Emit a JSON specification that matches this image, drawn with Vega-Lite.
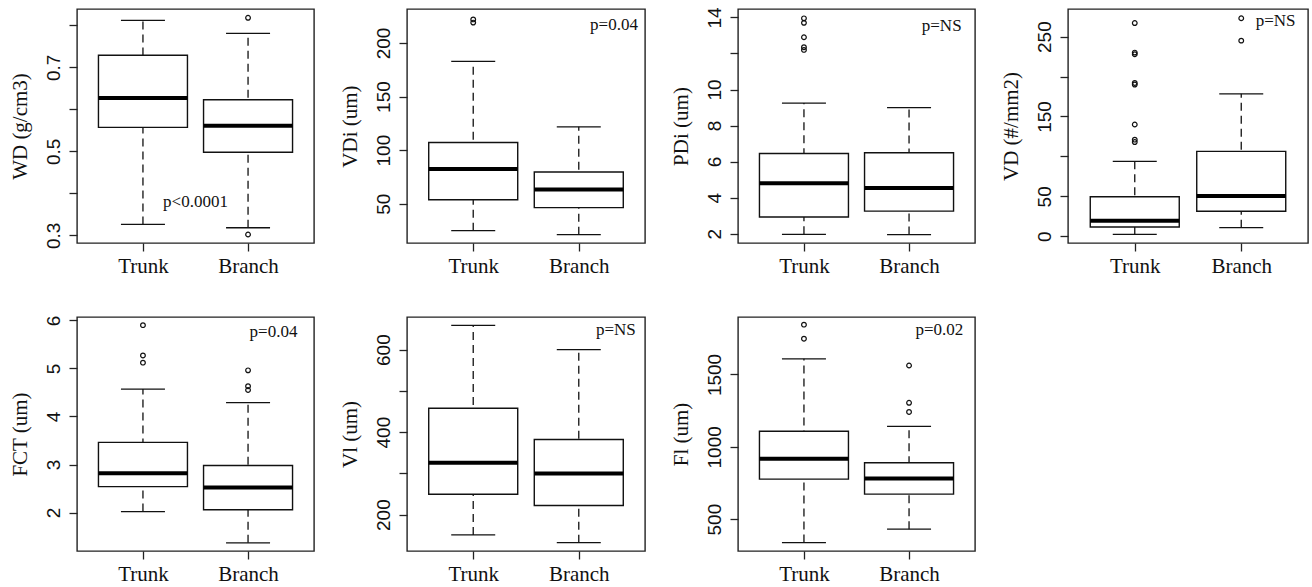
{
"$schema": "https://vega.github.io/schema/vega-lite/v6.json",
"padding": {"left": 8, "top": 6, "right": 2, "bottom": 2},
"datasets": {
"stats": [
{"panel": "WD", "group": "Trunk", "pos": 1, "lo": 0.326, "q1": 0.557, "med": 0.627, "q3": 0.729, "hi": 0.812},
{"panel": "WD", "group": "Branch", "pos": 2, "lo": 0.318, "q1": 0.498, "med": 0.561, "q3": 0.623, "hi": 0.781},
{"panel": "VDi", "group": "Trunk", "pos": 1, "lo": 24.8, "q1": 53.7, "med": 82.3, "q3": 107.1, "hi": 182.9},
{"panel": "VDi", "group": "Branch", "pos": 2, "lo": 21.1, "q1": 46.3, "med": 63.3, "q3": 79.5, "hi": 121.7},
{"panel": "PDi", "group": "Trunk", "pos": 1, "lo": 1.96, "q1": 2.92, "med": 4.79, "q3": 6.45, "hi": 9.25},
{"panel": "PDi", "group": "Branch", "pos": 2, "lo": 1.95, "q1": 3.25, "med": 4.53, "q3": 6.49, "hi": 9.0},
{"panel": "VD", "group": "Trunk", "pos": 1, "lo": 2.5, "q1": 11.7, "med": 19.6, "q3": 49.6, "hi": 93.8},
{"panel": "VD", "group": "Branch", "pos": 2, "lo": 10.8, "q1": 31.3, "med": 50.4, "q3": 106.3, "hi": 178.4},
{"panel": "FCT", "group": "Trunk", "pos": 1, "lo": 2.02, "q1": 2.54, "med": 2.82, "q3": 3.46, "hi": 4.57},
{"panel": "FCT", "group": "Branch", "pos": 2, "lo": 1.37, "q1": 2.06, "med": 2.52, "q3": 2.98, "hi": 4.29},
{"panel": "Vl", "group": "Trunk", "pos": 1, "lo": 150.7, "q1": 249.3, "med": 325.5, "q3": 458, "hi": 659},
{"panel": "Vl", "group": "Branch", "pos": 2, "lo": 132, "q1": 222, "med": 300, "q3": 382, "hi": 600},
{"panel": "Fl", "group": "Trunk", "pos": 1, "lo": 338, "q1": 777, "med": 917, "q3": 1107, "hi": 1608},
{"panel": "Fl", "group": "Branch", "pos": 2, "lo": 431, "q1": 673, "med": 781, "q3": 890, "hi": 1141}
],
"outliers": [
{"panel": "WD", "group": "Branch", "pos": 2, "v": 0.818},
{"panel": "WD", "group": "Branch", "pos": 2, "v": 0.302},
{"panel": "VDi", "group": "Trunk", "pos": 1, "v": 222},
{"panel": "VDi", "group": "Trunk", "pos": 1, "v": 219},
{"panel": "PDi", "group": "Trunk", "pos": 1, "v": 13.95},
{"panel": "PDi", "group": "Trunk", "pos": 1, "v": 13.7},
{"panel": "PDi", "group": "Trunk", "pos": 1, "v": 12.9},
{"panel": "PDi", "group": "Trunk", "pos": 1, "v": 12.35},
{"panel": "PDi", "group": "Trunk", "pos": 1, "v": 12.2},
{"panel": "VD", "group": "Trunk", "pos": 1, "v": 267},
{"panel": "VD", "group": "Trunk", "pos": 1, "v": 230},
{"panel": "VD", "group": "Trunk", "pos": 1, "v": 228},
{"panel": "VD", "group": "Trunk", "pos": 1, "v": 192},
{"panel": "VD", "group": "Trunk", "pos": 1, "v": 190},
{"panel": "VD", "group": "Trunk", "pos": 1, "v": 140},
{"panel": "VD", "group": "Trunk", "pos": 1, "v": 121},
{"panel": "VD", "group": "Trunk", "pos": 1, "v": 118},
{"panel": "VD", "group": "Branch", "pos": 2, "v": 273},
{"panel": "VD", "group": "Branch", "pos": 2, "v": 245},
{"panel": "FCT", "group": "Trunk", "pos": 1, "v": 5.9},
{"panel": "FCT", "group": "Trunk", "pos": 1, "v": 5.27},
{"panel": "FCT", "group": "Trunk", "pos": 1, "v": 5.12},
{"panel": "FCT", "group": "Branch", "pos": 2, "v": 4.96},
{"panel": "FCT", "group": "Branch", "pos": 2, "v": 4.63},
{"panel": "FCT", "group": "Branch", "pos": 2, "v": 4.55},
{"panel": "Fl", "group": "Trunk", "pos": 1, "v": 1844},
{"panel": "Fl", "group": "Trunk", "pos": 1, "v": 1747},
{"panel": "Fl", "group": "Branch", "pos": 2, "v": 1562},
{"panel": "Fl", "group": "Branch", "pos": 2, "v": 1304},
{"panel": "Fl", "group": "Branch", "pos": 2, "v": 1241}
],
"notes": [
{"panel": "WD", "label": "p<0.0001", "pos": 1.5, "y": 0.379},
{"panel": "VDi", "label": "p=0.04", "pos": 2.56, "y": 216.8},
{"panel": "PDi", "label": "p=NS", "pos": 2.5, "y": 13.54},
{"panel": "VD", "label": "p=NS", "pos": 2.51, "y": 270},
{"panel": "FCT", "label": "p=0.04", "pos": 2.47, "y": 5.76},
{"panel": "Vl", "label": "p=NS", "pos": 2.54, "y": 647},
{"panel": "Fl", "label": "p=0.02", "pos": 2.517, "y": 1810}
]
},
"columns": 4,
"spacing": {"row": 74, "column": 93},
"bounds": "flush",
"concat": [
   {"width": 237, "height": 234,
    "encoding": {"x": {"field": "pos", "type": "quantitative", "scale": {"domain": [0.42, 2.58], "nice": false, "zero": false}, "axis": {"values": [1, 2], "labelExpr": "datum.value == 1 ? 'Trunk' : 'Branch'", "title": null}}},
    "layer": [
     {"data": {"name": "stats"}, "transform": [{"filter": "datum.panel == 'WD'"}], "mark": {"type": "rule", "strokeDash": [8, 5], "strokeWidth": 1.3, "color": "#111", "opacity": 1},
      "encoding": {"y": {"field": "lo", "type": "quantitative", "scale": {"domain": [0.2817, 0.839], "nice": false, "zero": false}, "axis": {"title": "WD (g/cm3)", "values": [0.3, 0.4, 0.5, 0.6, 0.7, 0.8], "tickCount": 20, "format": ".1f", "labelOverlap": false, "labelExpr": "(datum.value > 0.35 && datum.value < 0.45) || (datum.value > 0.55 && datum.value < 0.65) || datum.value > 0.75 ? '' : datum.label"}}, "y2": {"field": "hi"}}},
     {"data": {"name": "stats"}, "transform": [{"filter": "datum.panel == 'WD'"}], "mark": {"type": "tick", "orient": "horizontal", "size": 44, "thickness": 1.3, "color": "#111", "opacity": 1}, "encoding": {"y": {"field": "lo", "type": "quantitative"}}},
     {"data": {"name": "stats"}, "transform": [{"filter": "datum.panel == 'WD'"}], "mark": {"type": "tick", "orient": "horizontal", "size": 44, "thickness": 1.3, "color": "#111", "opacity": 1}, "encoding": {"y": {"field": "hi", "type": "quantitative"}}},
     {"data": {"name": "stats"}, "transform": [{"filter": "datum.panel == 'WD'"}], "mark": {"type": "bar", "orient": "vertical", "size": 89, "fill": "white", "stroke": "#111", "strokeWidth": 1.4, "opacity": 1}, "encoding": {"y": {"field": "q1", "type": "quantitative"}, "y2": {"field": "q3"}}},
     {"data": {"name": "stats"}, "transform": [{"filter": "datum.panel == 'WD'"}], "mark": {"type": "tick", "orient": "horizontal", "size": 89, "thickness": 4, "color": "#000", "opacity": 1}, "encoding": {"y": {"field": "med", "type": "quantitative"}}},
     {"data": {"name": "outliers"}, "transform": [{"filter": "datum.panel == 'WD'"}], "mark": {"type": "point", "shape": "circle", "filled": false, "size": 22, "strokeWidth": 1.2, "color": "#111", "opacity": 1}, "encoding": {"y": {"field": "v", "type": "quantitative"}}},
     {"data": {"name": "notes"}, "transform": [{"filter": "datum.panel == 'WD'"}], "mark": {"type": "text", "font": "Liberation Serif", "fontSize": 17, "align": "center", "baseline": "middle", "color": "#111"}, "encoding": {"y": {"field": "y", "type": "quantitative"}, "text": {"field": "label"}}}
    ]},
   {"width": 238, "height": 234,
    "encoding": {"x": {"field": "pos", "type": "quantitative", "scale": {"domain": [0.42, 2.58], "nice": false, "zero": false}, "axis": {"values": [1, 2], "labelExpr": "datum.value == 1 ? 'Trunk' : 'Branch'", "title": null}}},
    "layer": [
     {"data": {"name": "stats"}, "transform": [{"filter": "datum.panel == 'VDi'"}], "mark": {"type": "rule", "strokeDash": [8, 5], "strokeWidth": 1.3, "color": "#111", "opacity": 1},
      "encoding": {"y": {"field": "lo", "type": "quantitative", "scale": {"domain": [13.3, 231.7], "nice": false, "zero": false}, "axis": {"title": "VDi (um)", "values": [50, 100, 150, 200], "tickCount": 20, "format": "d", "labelOverlap": false}}, "y2": {"field": "hi"}}},
     {"data": {"name": "stats"}, "transform": [{"filter": "datum.panel == 'VDi'"}], "mark": {"type": "tick", "orient": "horizontal", "size": 44, "thickness": 1.3, "color": "#111", "opacity": 1}, "encoding": {"y": {"field": "lo", "type": "quantitative"}}},
     {"data": {"name": "stats"}, "transform": [{"filter": "datum.panel == 'VDi'"}], "mark": {"type": "tick", "orient": "horizontal", "size": 44, "thickness": 1.3, "color": "#111", "opacity": 1}, "encoding": {"y": {"field": "hi", "type": "quantitative"}}},
     {"data": {"name": "stats"}, "transform": [{"filter": "datum.panel == 'VDi'"}], "mark": {"type": "bar", "orient": "vertical", "size": 89, "fill": "white", "stroke": "#111", "strokeWidth": 1.4, "opacity": 1}, "encoding": {"y": {"field": "q1", "type": "quantitative"}, "y2": {"field": "q3"}}},
     {"data": {"name": "stats"}, "transform": [{"filter": "datum.panel == 'VDi'"}], "mark": {"type": "tick", "orient": "horizontal", "size": 89, "thickness": 4, "color": "#000", "opacity": 1}, "encoding": {"y": {"field": "med", "type": "quantitative"}}},
     {"data": {"name": "outliers"}, "transform": [{"filter": "datum.panel == 'VDi'"}], "mark": {"type": "point", "shape": "circle", "filled": false, "size": 22, "strokeWidth": 1.2, "color": "#111", "opacity": 1}, "encoding": {"y": {"field": "v", "type": "quantitative"}}},
     {"data": {"name": "notes"}, "transform": [{"filter": "datum.panel == 'VDi'"}], "mark": {"type": "text", "font": "Liberation Serif", "fontSize": 17, "align": "right", "baseline": "middle", "color": "#111"}, "encoding": {"y": {"field": "y", "type": "quantitative"}, "text": {"field": "label"}}}
    ]},
  {"width": 237, "height": 234,
   "encoding": {"x": {"field": "pos", "type": "quantitative", "scale": {"domain": [0.42, 2.58], "nice": false, "zero": false}, "axis": {"values": [1, 2], "labelExpr": "datum.value == 1 ? 'Trunk' : 'Branch'", "title": null}}},
   "layer": [
    {"data": {"name": "stats"}, "transform": [{"filter": "datum.panel == 'PDi'"}], "mark": {"type": "rule", "strokeDash": [8, 5], "strokeWidth": 1.3, "color": "#111", "opacity": 1},
     "encoding": {"y": {"field": "lo", "type": "quantitative", "scale": {"domain": [1.48, 14.47], "nice": false, "zero": false}, "axis": {"title": "PDi (um)", "values": [2, 4, 6, 8, 10, 12, 14], "tickCount": 20, "format": "d", "labelOverlap": false, "labelExpr": "datum.value == 12 ? '' : datum.label"}}, "y2": {"field": "hi"}}},
    {"data": {"name": "stats"}, "transform": [{"filter": "datum.panel == 'PDi'"}], "mark": {"type": "tick", "orient": "horizontal", "size": 44, "thickness": 1.3, "color": "#111", "opacity": 1}, "encoding": {"y": {"field": "lo", "type": "quantitative"}}},
    {"data": {"name": "stats"}, "transform": [{"filter": "datum.panel == 'PDi'"}], "mark": {"type": "tick", "orient": "horizontal", "size": 44, "thickness": 1.3, "color": "#111", "opacity": 1}, "encoding": {"y": {"field": "hi", "type": "quantitative"}}},
    {"data": {"name": "stats"}, "transform": [{"filter": "datum.panel == 'PDi'"}], "mark": {"type": "bar", "orient": "vertical", "size": 89, "fill": "white", "stroke": "#111", "strokeWidth": 1.4, "opacity": 1}, "encoding": {"y": {"field": "q1", "type": "quantitative"}, "y2": {"field": "q3"}}},
    {"data": {"name": "stats"}, "transform": [{"filter": "datum.panel == 'PDi'"}], "mark": {"type": "tick", "orient": "horizontal", "size": 89, "thickness": 4, "color": "#000", "opacity": 1}, "encoding": {"y": {"field": "med", "type": "quantitative"}}},
    {"data": {"name": "outliers"}, "transform": [{"filter": "datum.panel == 'PDi'"}], "mark": {"type": "point", "shape": "circle", "filled": false, "size": 22, "strokeWidth": 1.2, "color": "#111", "opacity": 1}, "encoding": {"y": {"field": "v", "type": "quantitative"}}},
    {"data": {"name": "notes"}, "transform": [{"filter": "datum.panel == 'PDi'"}], "mark": {"type": "text", "font": "Liberation Serif", "fontSize": 17, "align": "right", "baseline": "middle", "color": "#111"}, "encoding": {"y": {"field": "y", "type": "quantitative"}, "text": {"field": "label"}}}
   ]},
 {"width": 240, "height": 234,
  "encoding": {"x": {"field": "pos", "type": "quantitative", "scale": {"domain": [0.42, 2.58], "nice": false, "zero": false}, "axis": {"values": [1, 2], "labelExpr": "datum.value == 1 ? 'Trunk' : 'Branch'", "title": null}}},
  "layer": [
   {"data": {"name": "stats"}, "transform": [{"filter": "datum.panel == 'VD'"}], "mark": {"type": "rule", "strokeDash": [8, 5], "strokeWidth": 1.3, "color": "#111", "opacity": 1},
    "encoding": {"y": {"field": "lo", "type": "quantitative", "scale": {"domain": [-8.4, 284.6], "nice": false, "zero": false}, "axis": {"title": "VD (#/mm2)", "values": [0, 50, 100, 150, 200, 250], "tickCount": 20, "format": "d", "labelOverlap": false, "labelExpr": "datum.value == 100 || datum.value == 200 ? '' : datum.label"}}, "y2": {"field": "hi"}}},
   {"data": {"name": "stats"}, "transform": [{"filter": "datum.panel == 'VD'"}], "mark": {"type": "tick", "orient": "horizontal", "size": 44, "thickness": 1.3, "color": "#111", "opacity": 1}, "encoding": {"y": {"field": "lo", "type": "quantitative"}}},
   {"data": {"name": "stats"}, "transform": [{"filter": "datum.panel == 'VD'"}], "mark": {"type": "tick", "orient": "horizontal", "size": 44, "thickness": 1.3, "color": "#111", "opacity": 1}, "encoding": {"y": {"field": "hi", "type": "quantitative"}}},
   {"data": {"name": "stats"}, "transform": [{"filter": "datum.panel == 'VD'"}], "mark": {"type": "bar", "orient": "vertical", "size": 89, "fill": "white", "stroke": "#111", "strokeWidth": 1.4, "opacity": 1}, "encoding": {"y": {"field": "q1", "type": "quantitative"}, "y2": {"field": "q3"}}},
   {"data": {"name": "stats"}, "transform": [{"filter": "datum.panel == 'VD'"}], "mark": {"type": "tick", "orient": "horizontal", "size": 89, "thickness": 4, "color": "#000", "opacity": 1}, "encoding": {"y": {"field": "med", "type": "quantitative"}}},
   {"data": {"name": "outliers"}, "transform": [{"filter": "datum.panel == 'VD'"}], "mark": {"type": "point", "shape": "circle", "filled": false, "size": 22, "strokeWidth": 1.2, "color": "#111", "opacity": 1}, "encoding": {"y": {"field": "v", "type": "quantitative"}}},
   {"data": {"name": "notes"}, "transform": [{"filter": "datum.panel == 'VD'"}], "mark": {"type": "text", "font": "Liberation Serif", "fontSize": 17, "align": "right", "baseline": "middle", "color": "#111"}, "encoding": {"y": {"field": "y", "type": "quantitative"}, "text": {"field": "label"}}}
  ]},
  {"width": 237, "height": 234,
   "encoding": {"x": {"field": "pos", "type": "quantitative", "scale": {"domain": [0.42, 2.58], "nice": false, "zero": false}, "axis": {"values": [1, 2], "labelExpr": "datum.value == 1 ? 'Trunk' : 'Branch'", "title": null}}},
   "layer": [
    {"data": {"name": "stats"}, "transform": [{"filter": "datum.panel == 'FCT'"}], "mark": {"type": "rule", "strokeDash": [8, 5], "strokeWidth": 1.3, "color": "#111", "opacity": 1},
     "encoding": {"y": {"field": "lo", "type": "quantitative", "scale": {"domain": [1.2, 6.07], "nice": false, "zero": false}, "axis": {"title": "FCT (um)", "values": [2, 3, 4, 5, 6], "tickCount": 20, "format": "d", "labelOverlap": false}}, "y2": {"field": "hi"}}},
    {"data": {"name": "stats"}, "transform": [{"filter": "datum.panel == 'FCT'"}], "mark": {"type": "tick", "orient": "horizontal", "size": 44, "thickness": 1.3, "color": "#111", "opacity": 1}, "encoding": {"y": {"field": "lo", "type": "quantitative"}}},
    {"data": {"name": "stats"}, "transform": [{"filter": "datum.panel == 'FCT'"}], "mark": {"type": "tick", "orient": "horizontal", "size": 44, "thickness": 1.3, "color": "#111", "opacity": 1}, "encoding": {"y": {"field": "hi", "type": "quantitative"}}},
    {"data": {"name": "stats"}, "transform": [{"filter": "datum.panel == 'FCT'"}], "mark": {"type": "bar", "orient": "vertical", "size": 89, "fill": "white", "stroke": "#111", "strokeWidth": 1.4, "opacity": 1}, "encoding": {"y": {"field": "q1", "type": "quantitative"}, "y2": {"field": "q3"}}},
    {"data": {"name": "stats"}, "transform": [{"filter": "datum.panel == 'FCT'"}], "mark": {"type": "tick", "orient": "horizontal", "size": 89, "thickness": 4, "color": "#000", "opacity": 1}, "encoding": {"y": {"field": "med", "type": "quantitative"}}},
    {"data": {"name": "outliers"}, "transform": [{"filter": "datum.panel == 'FCT'"}], "mark": {"type": "point", "shape": "circle", "filled": false, "size": 22, "strokeWidth": 1.2, "color": "#111", "opacity": 1}, "encoding": {"y": {"field": "v", "type": "quantitative"}}},
    {"data": {"name": "notes"}, "transform": [{"filter": "datum.panel == 'FCT'"}], "mark": {"type": "text", "font": "Liberation Serif", "fontSize": 17, "align": "right", "baseline": "middle", "color": "#111"}, "encoding": {"y": {"field": "y", "type": "quantitative"}, "text": {"field": "label"}}}
   ]},
  {"width": 238, "height": 234,
   "encoding": {"x": {"field": "pos", "type": "quantitative", "scale": {"domain": [0.42, 2.58], "nice": false, "zero": false}, "axis": {"values": [1, 2], "labelExpr": "datum.value == 1 ? 'Trunk' : 'Branch'", "title": null}}},
   "layer": [
    {"data": {"name": "stats"}, "transform": [{"filter": "datum.panel == 'Vl'"}], "mark": {"type": "rule", "strokeDash": [8, 5], "strokeWidth": 1.3, "color": "#111", "opacity": 1},
     "encoding": {"y": {"field": "lo", "type": "quantitative", "scale": {"domain": [111.8, 679.2], "nice": false, "zero": false}, "axis": {"title": "Vl (um)", "values": [200, 300, 400, 500, 600], "tickCount": 20, "format": "d", "labelOverlap": false, "labelExpr": "datum.value == 300 || datum.value == 500 ? '' : datum.label"}}, "y2": {"field": "hi"}}},
    {"data": {"name": "stats"}, "transform": [{"filter": "datum.panel == 'Vl'"}], "mark": {"type": "tick", "orient": "horizontal", "size": 44, "thickness": 1.3, "color": "#111", "opacity": 1}, "encoding": {"y": {"field": "lo", "type": "quantitative"}}},
    {"data": {"name": "stats"}, "transform": [{"filter": "datum.panel == 'Vl'"}], "mark": {"type": "tick", "orient": "horizontal", "size": 44, "thickness": 1.3, "color": "#111", "opacity": 1}, "encoding": {"y": {"field": "hi", "type": "quantitative"}}},
    {"data": {"name": "stats"}, "transform": [{"filter": "datum.panel == 'Vl'"}], "mark": {"type": "bar", "orient": "vertical", "size": 89, "fill": "white", "stroke": "#111", "strokeWidth": 1.4, "opacity": 1}, "encoding": {"y": {"field": "q1", "type": "quantitative"}, "y2": {"field": "q3"}}},
    {"data": {"name": "stats"}, "transform": [{"filter": "datum.panel == 'Vl'"}], "mark": {"type": "tick", "orient": "horizontal", "size": 89, "thickness": 4, "color": "#000", "opacity": 1}, "encoding": {"y": {"field": "med", "type": "quantitative"}}},
    {"data": {"name": "notes"}, "transform": [{"filter": "datum.panel == 'Vl'"}], "mark": {"type": "text", "font": "Liberation Serif", "fontSize": 17, "align": "right", "baseline": "middle", "color": "#111"}, "encoding": {"y": {"field": "y", "type": "quantitative"}, "text": {"field": "label"}}}
   ]},
 {"width": 237, "height": 234,
  "encoding": {"x": {"field": "pos", "type": "quantitative", "scale": {"domain": [0.42, 2.58], "nice": false, "zero": false}, "axis": {"values": [1, 2], "labelExpr": "datum.value == 1 ? 'Trunk' : 'Branch'", "title": null}}},
  "layer": [
   {"data": {"name": "stats"}, "transform": [{"filter": "datum.panel == 'Fl'"}], "mark": {"type": "rule", "strokeDash": [8, 5], "strokeWidth": 1.3, "color": "#111", "opacity": 1},
    "encoding": {"y": {"field": "lo", "type": "quantitative", "scale": {"domain": [280, 1897], "nice": false, "zero": false}, "axis": {"title": "Fl (um)", "values": [500, 1000, 1500], "tickCount": 20, "format": "d", "labelOverlap": false}}, "y2": {"field": "hi"}}},
   {"data": {"name": "stats"}, "transform": [{"filter": "datum.panel == 'Fl'"}], "mark": {"type": "tick", "orient": "horizontal", "size": 44, "thickness": 1.3, "color": "#111", "opacity": 1}, "encoding": {"y": {"field": "lo", "type": "quantitative"}}},
   {"data": {"name": "stats"}, "transform": [{"filter": "datum.panel == 'Fl'"}], "mark": {"type": "tick", "orient": "horizontal", "size": 44, "thickness": 1.3, "color": "#111", "opacity": 1}, "encoding": {"y": {"field": "hi", "type": "quantitative"}}},
   {"data": {"name": "stats"}, "transform": [{"filter": "datum.panel == 'Fl'"}], "mark": {"type": "bar", "orient": "vertical", "size": 89, "fill": "white", "stroke": "#111", "strokeWidth": 1.4, "opacity": 1}, "encoding": {"y": {"field": "q1", "type": "quantitative"}, "y2": {"field": "q3"}}},
   {"data": {"name": "stats"}, "transform": [{"filter": "datum.panel == 'Fl'"}], "mark": {"type": "tick", "orient": "horizontal", "size": 89, "thickness": 4, "color": "#000", "opacity": 1}, "encoding": {"y": {"field": "med", "type": "quantitative"}}},
   {"data": {"name": "outliers"}, "transform": [{"filter": "datum.panel == 'Fl'"}], "mark": {"type": "point", "shape": "circle", "filled": false, "size": 22, "strokeWidth": 1.2, "color": "#111", "opacity": 1}, "encoding": {"y": {"field": "v", "type": "quantitative"}}},
   {"data": {"name": "notes"}, "transform": [{"filter": "datum.panel == 'Fl'"}], "mark": {"type": "text", "font": "Liberation Serif", "fontSize": 17, "align": "right", "baseline": "middle", "color": "#111"}, "encoding": {"y": {"field": "y", "type": "quantitative"}, "text": {"field": "label"}}}
  ]}
],
"config": {
 "background": "white",
 "view": {"stroke": "#222", "strokeWidth": 1.4},
 "axis": {"grid": false, "domain": false, "tickColor": "#222", "tickWidth": 1.3, "tickSize": 8, "labelColor": "#111", "labelFlush": false},
 "axisX": {"labelFont": "Liberation Serif", "labelFontSize": 21, "labelBaseline": "top", "labelPadding": 4},
 "axisY": {"labelFont": "Liberation Sans", "labelFontSize": 19, "labelAngle": -90, "labelAlign": "center", "labelBaseline": "alphabetic", "labelPadding": 10, "titleFont": "Liberation Serif", "titleFontSize": 21, "titleFontWeight": "normal", "titleColor": "#111", "titleX": -51, "titleBaseline": "alphabetic", "titleAngle": -90}
}
}
